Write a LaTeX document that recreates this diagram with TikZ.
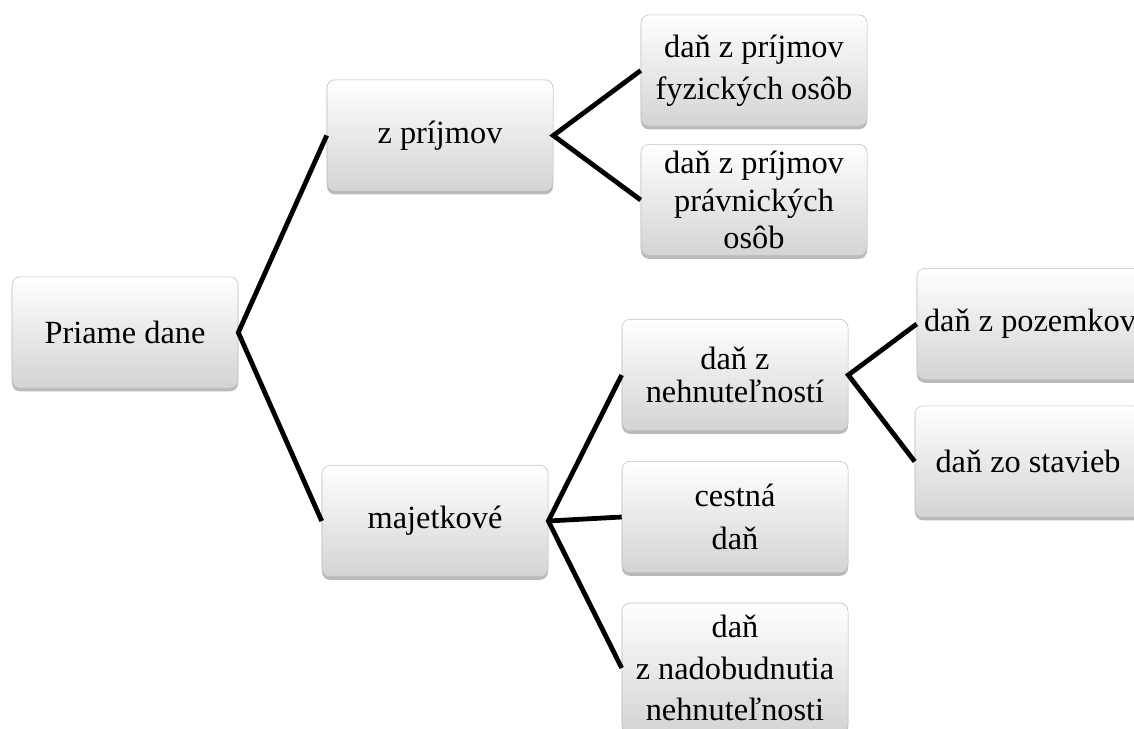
\documentclass[tikz,border=0pt]{standalone}
\usepackage{fontspec}
\setmainfont{Liberation Serif}
\usepackage{tikz}
\usetikzlibrary{shadows}
\tikzset{
    taxbox/.style={rectangle, rounded corners=0.2cm, minimum width=5.65cm, minimum height=2.78cm,
        inner sep=0pt, align=center, top color=white, bottom color=black!17, draw=black!25, line width=0.4pt,
        drop shadow={shadow xshift=0pt, shadow yshift=-0.08cm, opacity=0.45, fill=black!60},
        font=\fontsize{23}{30}\selectfont},
    taxline/.style={line width=3.4pt, black, line join=miter}
}

\begin{document}
\begin{tikzpicture}[x=0.025cm, y=-0.025cm]
        \newcommand{\figtaxwidth}{1134}
        \newcommand{\figtaxheight}{729}
        \newcommand{\figtaxcola}{125}
        \newcommand{\figtaxcolb}{440}
        \newcommand{\figtaxcolc}{754}
        \newcommand{\figtaxcold}{735}
        \newcommand{\figtaxcole}{1030}
        \useasboundingbox (0,0) rectangle (\figtaxwidth,\figtaxheight);
        \clip (0,0) rectangle (\figtaxwidth,\figtaxheight);
        \node[taxbox] (priame) at (\figtaxcola,332.5) {Priame dane};
        \node[taxbox] (zprijmov) at (\figtaxcolb,135.5) {z príjmov};
        \node[taxbox] (majetkove) at (\figtaxcolb-5,521) {majetkové};
        \node[taxbox] (fyzicke) at (\figtaxcolc,70.5) {daň z príjmov\\fyzických osôb};
        \node[taxbox, font=\fontsize{23}{26.5}\selectfont] (pravnicke) at (\figtaxcolc,200) {daň z príjmov\\právnických\\osôb};
        \node[taxbox, font=\fontsize{23}{23}\selectfont] (nehnutelnosti) at (\figtaxcold,375) {daň z\\nehnuteľností};
        \node[taxbox, font=\fontsize{23}{31}\selectfont] (cestna) at (\figtaxcold,517) {cestná\\daň};
        \node[taxbox, minimum height=3.25cm, font=\fontsize{23}{29.5}\selectfont] (nadobudnutie) at (\figtaxcold,668) {daň\\z nadobudnutia\\nehnuteľnosti};
        \node[taxbox] (pozemky) at (\figtaxcole,324) {daň z pozemkov};
        \node[taxbox] (stavby) at (\figtaxcole-2,461.5) {daň zo stavieb};
        \draw[taxline] (zprijmov.west) -- (priame.east) -- (majetkove.west);
        \draw[taxline] (fyzicke.west) -- (zprijmov.east) -- (pravnicke.west);
        \draw[taxline] (nehnutelnosti.west) -- (majetkove.east) -- (nadobudnutie.west);
        \draw[taxline] (majetkove.east) -- (cestna.west);
        \draw[taxline] (pozemky.west) -- (nehnutelnosti.east) -- (stavby.west);
    \end{tikzpicture}
\end{document}
